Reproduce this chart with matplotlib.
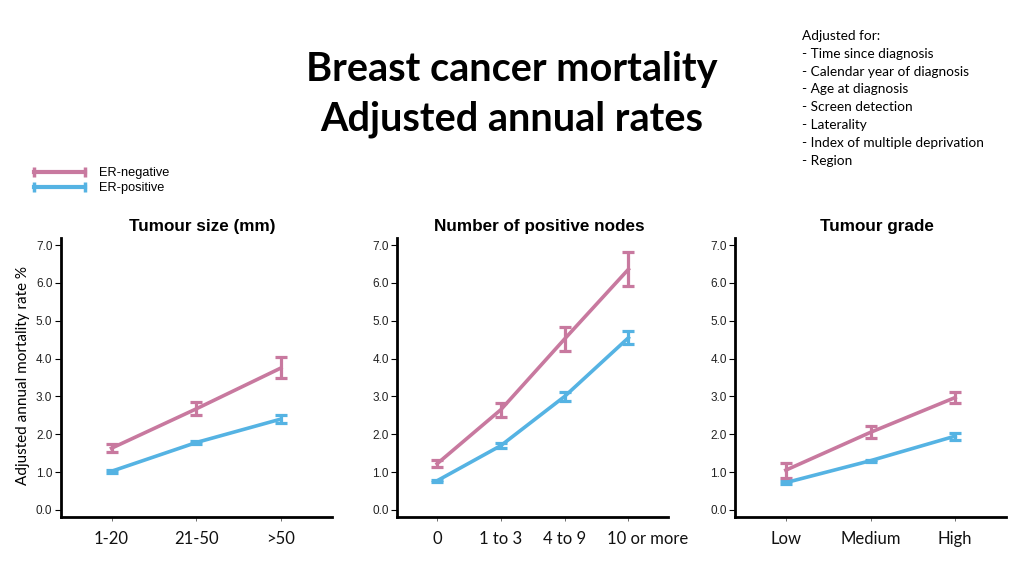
import matplotlib.pyplot as plt
from matplotlib.lines import Line2D
from matplotlib.transforms import ScaledTranslation

# colours of the two series
pink = "#c8799f"
blue = "#55b3e3"

# Tumour size (mm)
size_cats = ["1-20", "21-50", ">50"]
size_neg = [1.63, 2.67, 3.75]
size_neg_lo = [1.52, 2.50, 3.48]
size_neg_hi = [1.75, 2.85, 4.05]
size_pos = [1.02, 1.78, 2.40]
size_pos_lo = [0.98, 1.73, 2.30]
size_pos_hi = [1.06, 1.83, 2.52]

# Number of positive nodes
nodes_cats = ["0", "1 to 3", "4 to 9", "10 or more"]
nodes_neg = [1.22, 2.65, 4.52, 6.36]
nodes_neg_lo = [1.13, 2.45, 4.20, 5.93]
nodes_neg_hi = [1.31, 2.83, 4.83, 6.83]
nodes_pos = [0.77, 1.70, 3.00, 4.55]
nodes_pos_lo = [0.74, 1.63, 2.89, 4.38]
nodes_pos_hi = [0.80, 1.77, 3.11, 4.72]

# Tumour grade
grade_cats = ["Low", "Medium", "High"]
grade_neg = [1.05, 2.05, 2.97]
grade_neg_lo = [0.85, 1.90, 2.83]
grade_neg_hi = [1.25, 2.21, 3.11]
grade_pos = [0.72, 1.30, 1.95]
grade_pos_lo = [0.69, 1.27, 1.85]
grade_pos_hi = [0.75, 1.33, 2.04]

panels = [
    ("Tumour size (mm)", size_cats, size_neg, size_neg_lo, size_neg_hi, size_pos, size_pos_lo, size_pos_hi),
    ("Number of positive nodes", nodes_cats, nodes_neg, nodes_neg_lo, nodes_neg_hi, nodes_pos, nodes_pos_lo, nodes_pos_hi),
    ("Tumour grade", grade_cats, grade_neg, grade_neg_lo, grade_neg_hi, grade_pos, grade_pos_lo, grade_pos_hi),
]

axes_left = [0.0593, 0.388, 0.7178]

fig = plt.figure(figsize=(10.24, 5.76), dpi=100)

for left, (title, cats, neg, neg_lo, neg_hi, pos, pos_lo, pos_hi) in zip(axes_left, panels):
    ax = fig.add_axes([left, 0.103, 0.2646, 0.4833])
    x = list(range(len(cats)))
    for vals, lo, hi, col in [(pos, pos_lo, pos_hi, blue), (neg, neg_lo, neg_hi, pink)]:
        err = [[v - l for v, l in zip(vals, lo)], [h - v for v, h in zip(vals, hi)]]
        ax.errorbar(x, vals, yerr=err, color=col, lw=2.6, elinewidth=2.3,
                    capsize=4, capthick=2.3)
    pad = 0.6 if len(cats) == 3 else 0.625
    ax.set_xlim(-pad, len(cats) - 1 + pad)
    ax.set_ylim(-0.18, 7.18)
    ax.set_yticks([0, 1, 2, 3, 4, 5, 6, 7])
    ax.set_yticklabels([f"{v:.1f}" for v in range(8)], family="Liberation Sans",
                       fontsize=8.5, color="#222222")
    ax.set_xticks(x)
    ax.set_xticklabels(cats, family="Lato", fontsize=12, color="#111111")
    ax.tick_params(axis="x", length=3, width=0.6, pad=7, colors="#555555", labelcolor="#111111")
    ax.tick_params(axis="y", length=4, width=0.8, pad=2)
    for s in ["top", "right"]:
        ax.spines[s].set_visible(False)
    for s in ["left", "bottom"]:
        ax.spines[s].set_linewidth(2)
    ax.set_title(title, family="Liberation Sans", fontweight="bold", fontsize=12.3, pad=5, x=0.524)
    # the last node label sits a little right of its tick in the original
    if len(cats) == 4:
        lbl = ax.get_xticklabels()[-1]
        lbl.set_transform(lbl.get_transform() + ScaledTranslation(0.19, 0, fig.dpi_scale_trans))

fig.text(0.022, 0.348, "Adjusted annual mortality rate %", rotation=90, family="Lato",
         fontsize=11, ha="center", va="center")

fig.text(0.5, 0.88, "Breast cancer mortality", family="Lato", fontweight="bold",
         fontsize=28.5, ha="center", va="center")
fig.text(0.5, 0.793, "Adjusted annual rates", family="Lato", fontweight="bold",
         fontsize=28.5, ha="center", va="center")

notes = ["Adjusted for:", "- Time since diagnosis", "- Calendar year of diagnosis",
         "- Age at diagnosis", "- Screen detection", "- Laterality",
         "- Index of multiple deprivation", "- Region"]
fig.text(0.783, 0.948, "\n".join(notes), family="Lato", fontsize=9.8, ha="left", va="top",
         linespacing=1.58)

handles = [Line2D([], [], color=pink, lw=3, marker="|", markersize=7, mew=2.5),
           Line2D([], [], color=blue, lw=3, marker="|", markersize=7, mew=2.5)]
fig.legend(handles, ["ER-negative", "ER-positive"], loc="upper left",
           bbox_to_anchor=(0.018, 0.73), frameon=False, numpoints=2, handlelength=4.6,
           prop={"family": "Liberation Sans", "size": 9.2}, labelspacing=0.25, handletextpad=0.8)

fig.savefig("out.png", dpi=100)
